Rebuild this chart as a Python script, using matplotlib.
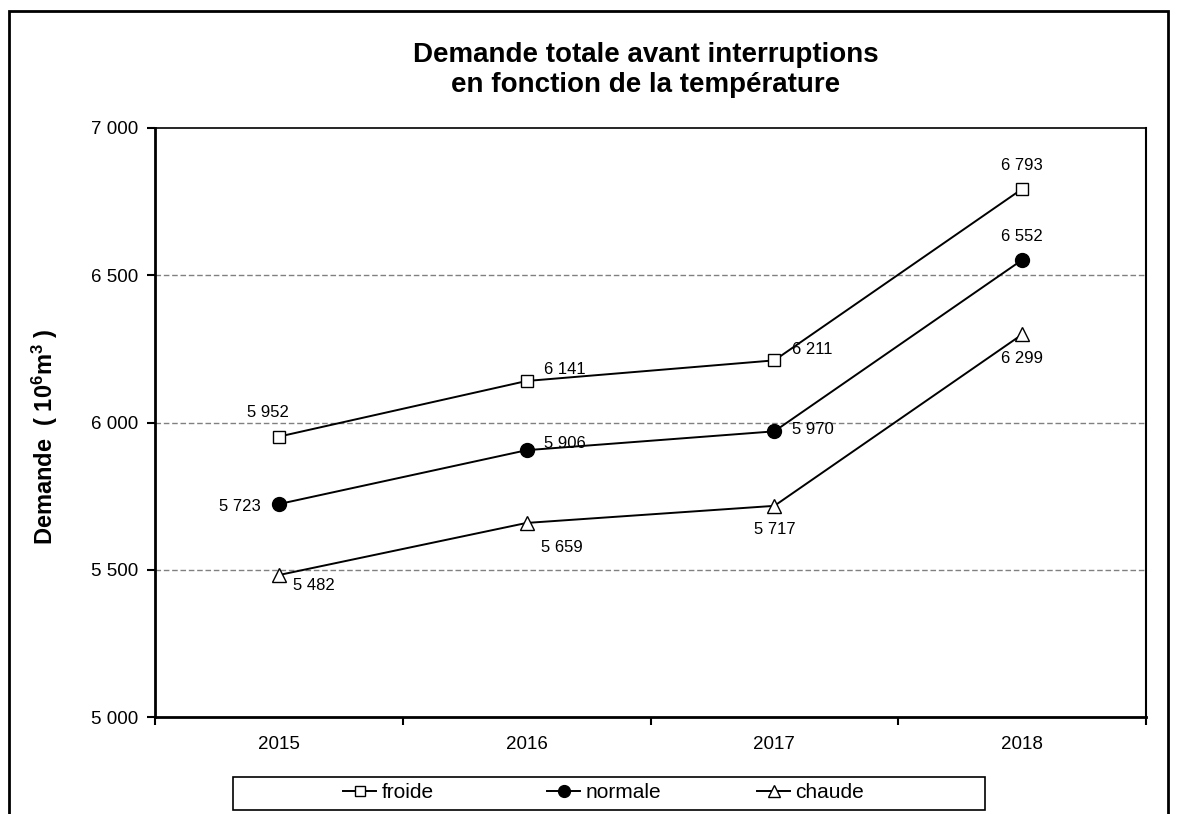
import matplotlib
matplotlib.use("Agg")
import matplotlib.pyplot as plt
from matplotlib.patches import Rectangle

plt.rcParams['font.family'] = ['Liberation Sans', 'DejaVu Sans']
plt.rcParams['mathtext.fontset'] = 'custom'
plt.rcParams['mathtext.rm'] = 'Liberation Sans:bold'
plt.rcParams['mathtext.it'] = 'Liberation Sans:bold'
plt.rcParams['mathtext.bf'] = 'Liberation Sans:bold'

years = ['2015', '2016', '2017', '2018']
froide = [5952, 6141, 6211, 6793]
normale = [5723, 5906, 5970, 6552]
chaude = [5482, 5659, 5717, 6299]
y_ticks = [5000, 5500, 6000, 6500, 7000]

# label offsets in pixels for each point
off_froide = [(-11, 24), (38, 11), (38, 11), (0, 23)]
off_normale = [(-39, -2), (38, 7), (39, 2), (0, 23)]
off_chaude = [(35, -10), (35, -25), (0, -24), (0, -24)]


def fmt(v):
    return f"{v:,}".replace(",", " ")


W, H = 1177, 814
fig = plt.figure(figsize=(W / 100, H / 100), dpi=100)
ax = fig.add_axes([155 / W, 1 - 717 / H, 991 / W, 589 / H])

x = list(range(len(years)))
series = [
    ('froide', froide, dict(marker='s', mfc='white', mec='black', ms=9, mew=1.0), off_froide),
    ('normale', normale, dict(marker='o', mfc='black', mec='black', ms=10), off_normale),
    ('chaude', chaude, dict(marker='^', mfc='white', mec='black', ms=10, mew=1.0), off_chaude),
]
handles = []
for name, vals, style, offs in series:
    h, = ax.plot(x, vals, color='black', lw=1.4, label=name, **style)
    handles.append(h)
    for xi, v, off in zip(x, vals, offs):
        ax.annotate(fmt(v), (xi, v), xytext=off, textcoords='offset pixels',
                    ha='center', va='center', fontsize=12)

ax.set_xlim(-0.5, 3.5)
ax.set_ylim(5000, 7000)
ax.set_yticks(y_ticks)
ax.set_yticklabels([fmt(v) for v in y_ticks])
ax.set_xticks([i - 0.5 for i in range(5)])
ax.set_xticklabels([])
ax.set_xticks(x, minor=True)
ax.set_xticklabels(years, minor=True)
ax.tick_params(axis='x', which='minor', length=0, pad=14, labelsize=13.5)
ax.tick_params(axis='x', which='major', length=6, width=1.5, direction='out')
ax.tick_params(axis='y', length=6, width=1.5, direction='out', labelsize=13.5, pad=6)

for v in y_ticks[1:-1]:
    ax.axhline(v, color='#808080', lw=1, ls=(0, (4, 2)), zorder=0)

ax.spines['left'].set_linewidth(2)
ax.spines['bottom'].set_linewidth(2)
ax.spines['right'].set_linewidth(1.5)
ax.spines['top'].set_linewidth(1.2)

fig.text(45 / W, 1 - 437 / H, 'Demande  ( 10$^{6}$m$^{3}$ )', rotation=90,
         ha='center', va='center', fontsize=17, fontweight='bold')

fig.text(646 / W, 1 - 70 / H,
         'Demande totale avant interruptions\nen fonction de la température',
         ha='center', va='center', fontsize=20, fontweight='bold', linespacing=1.25)

# outer frame around the whole chart
fig.patches.append(Rectangle((9 / W, -0.05), 1159 / W, 1.05 - 11 / H,
                             transform=fig.transFigure, fill=False, ec='black', lw=2))

# legend box with one entry per series
fig.patches.append(Rectangle((233 / W, 1 - 810 / H), 752 / W, 33 / H,
                             transform=fig.transFigure, fill=False, ec='black', lw=1.2))
for h, left in zip(handles, [343, 547, 757]):
    fig.legend(handles=[h], labels=[h.get_label()], loc='center left',
               bbox_to_anchor=(left / W, 1 - 793 / H), frameon=False,
               fontsize=15, handlelength=1.6, handletextpad=0.25,
               borderpad=0, borderaxespad=0, markerscale=0.85)

fig.savefig('out.png', dpi=100)
